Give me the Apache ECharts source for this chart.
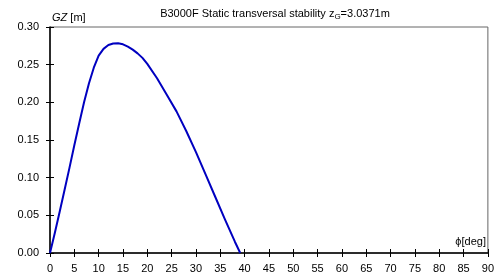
<!DOCTYPE html>
<html>
<head>
<meta charset="utf-8">
<script src="https://cdn.jsdelivr.net/npm/echarts@6/dist/echarts.min.js"></script>
<style>
  html, body { margin: 0; padding: 0; background: #fff; }
  #stab { width: 497px; height: 276px; }
</style>
</head>
<body>
<div id="stab"></div>
<script>
// heel angle [deg] and righting lever GZ [m]
const heelDeg = [0, 1, 2, 3, 4, 5, 6, 7, 8, 9, 10, 11, 12, 13, 14, 15, 16, 17, 18, 19, 20,
  22, 24, 26, 28, 30, 32, 34, 36, 38, 39.1];
const gzValues = [0, 0.027, 0.055, 0.084, 0.113, 0.143, 0.172, 0.200, 0.225, 0.246, 0.262, 0.271, 0.276, 0.278, 0.2783, 0.277, 0.274, 0.270, 0.265, 0.259, 0.251,
  0.232, 0.210, 0.188, 0.162, 0.134, 0.104, 0.074, 0.044, 0.015, 0];

const xTicks = { min: 0, max: 90, step: 5 };
const yTicks = { min: 0, max: 0.3, step: 0.05 };

const font = "Liberation Sans, Arial, sans-serif";
const chart = echarts.init(document.getElementById("stab"));

const points = heelDeg.map(function (d, i) { return [d, gzValues[i]]; });

const baseX = {
  type: "value",
  min: xTicks.min, max: xTicks.max, interval: xTicks.step,
  splitLine: { show: false }
};
const baseY = {
  type: "value",
  min: yTicks.min, max: yTicks.max, interval: yTicks.step,
  splitLine: { show: false }
};

chart.setOption({
  animation: false,
  title: {
    text: "{a|B3000F Static transversal stability z}{s|G}{a|=3.0371m}",
    left: 270,
    top: 2,
    textAlign: "center",
    textStyle: {
      fontWeight: "normal",
      rich: {
        a: { fontFamily: font, fontSize: 11, fontWeight: "normal", color: "#000" },
        s: { fontFamily: font, fontSize: 8, fontWeight: "normal", color: "#000", padding: [6, 0, 0, 0] }
      }
    }
  },
  grid: {
    left: 50, right: 8, top: 27, bottom: 23,
    show: true, borderColor: "#666", borderWidth: 1
  },
  xAxis: [
    Object.assign({}, baseX, {
      position: "bottom",
      axisLine: { lineStyle: { color: "#000", width: 1.5 } },
      axisTick: { inside: false, length: 4, lineStyle: { color: "#000" } },
      axisLabel: { fontFamily: font, fontSize: 11, color: "#000", margin: 10 }
    }),
    Object.assign({}, baseX, {
      position: "bottom",
      axisLine: { show: false },
      axisTick: { inside: true, length: 4, lineStyle: { color: "#000" } },
      axisLabel: { show: false }
    })
  ],
  yAxis: [
    Object.assign({}, baseY, {
      position: "left",
      name: "{i|GZ}{n| [m]}",
      nameLocation: "end",
      nameGap: 4,
      nameTextStyle: {
        align: "left",
        padding: [0, 0, 0, 2],
        rich: {
          i: { fontFamily: font, fontSize: 11, fontStyle: "italic", color: "#000" },
          n: { fontFamily: font, fontSize: 11, color: "#000" }
        }
      },
      axisLine: { lineStyle: { color: "#000", width: 1.5 } },
      axisTick: { inside: false, length: 4, lineStyle: { color: "#000" } },
      axisLabel: {
        fontFamily: font, fontSize: 11, color: "#000", margin: 11,
        formatter: function (v) { return v.toFixed(2); }
      }
    }),
    Object.assign({}, baseY, {
      position: "left",
      axisLine: { show: false },
      axisTick: { inside: true, length: 4, lineStyle: { color: "#000" } },
      axisLabel: { show: false }
    })
  ],
  graphic: [{
    type: "text",
    right: 11,
    top: 236,
    style: { text: "\u03d5[deg]", font: "11px " + font, fill: "#000" }
  }],
  series: [{
    type: "line",
    data: points,
    showSymbol: false,
    lineStyle: { color: "#0000c0", width: 2, join: "round" }
  }]
});
</script>
</body>
</html>
